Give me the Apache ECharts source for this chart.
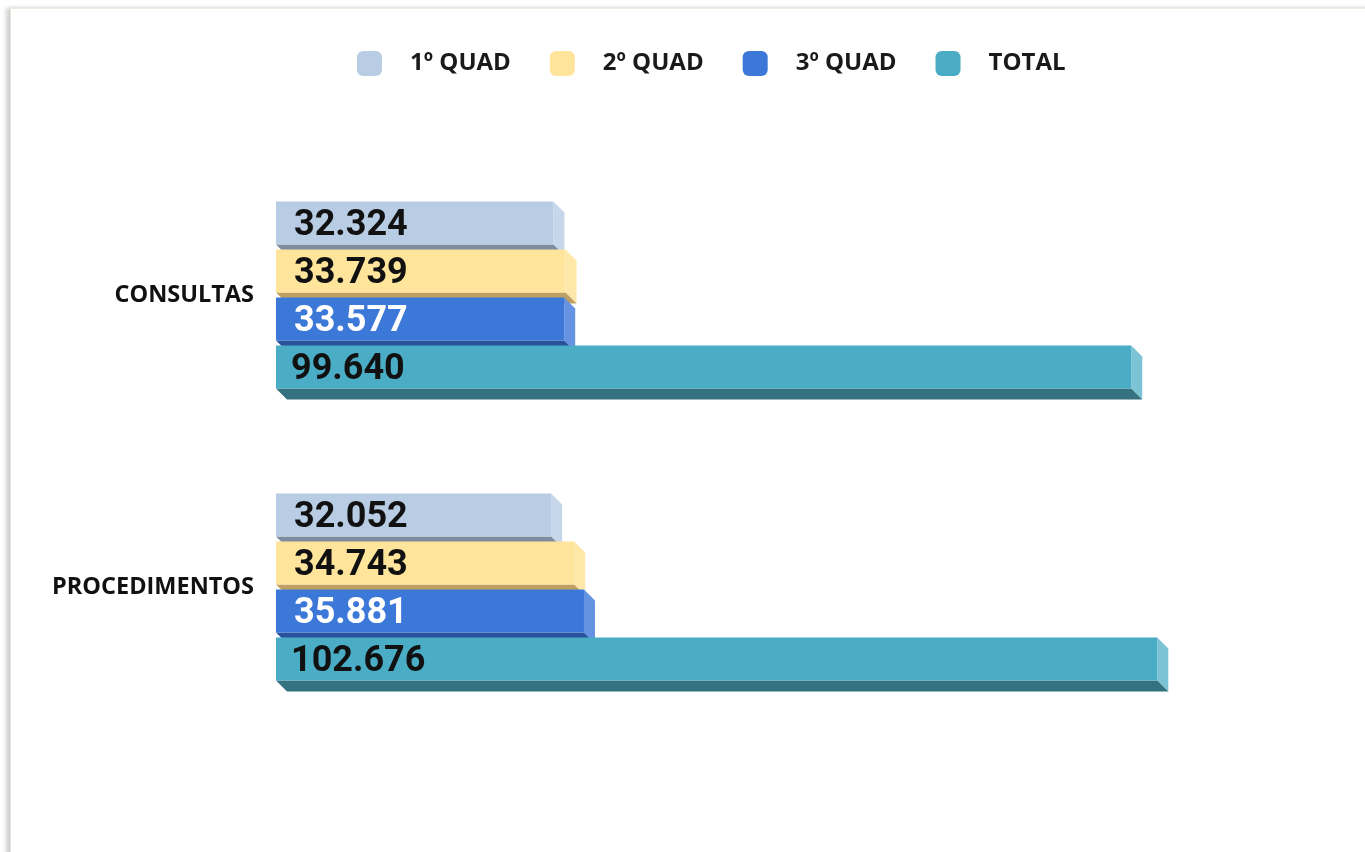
<!DOCTYPE html>
<html>
<head>
<meta charset="utf-8">
<script src="https://cdn.jsdelivr.net/npm/echarts@6/dist/echarts.min.js"></script>
<style>
  html, body { margin: 0; padding: 0; background: #fff; }
  #card {
    position: absolute; left: 10px; top: 8px; width: 1400px; height: 900px;
    background: #fff;
    border-left: 1px solid #e6e6da; border-top: 1px solid #ecebe0;
    box-shadow: -4px 0 4px rgba(0, 0, 0, 0.18), 0 -1px 2px rgba(0, 0, 0, 0.04);
  }
  #chart { position: absolute; left: 0; top: 0; width: 1365px; height: 852px; }
</style>
</head>
<body>
<div id="card"></div>
<div id="chart"></div>
<script>
  // dados
  var categories = ['CONSULTAS', 'PROCEDIMENTOS'];
  var seriesNames = ['1º QUAD', '2º QUAD', '3º QUAD', 'TOTAL'];
  var quad1 = [32324, 32052];
  var quad2 = [33739, 34743];
  var quad3 = [33577, 35881];
  var total = [99640, 102676];
  var allValues = [quad1, quad2, quad3, total];

  // cores: frente, lado direito, base
  var faceColors = [
    ['#b8cce4', '#c6d7eb', '#7d8ca0'],
    ['#ffe49b', '#ffe7a9', '#bfa063'],
    ['#3c78d8', '#6593e2', '#28529c'],
    ['#4bacc6', '#7cc3d6', '#34727f']
  ];
  var labelColors = ['#111', '#111', '#fff', '#111'];

  var BAR_H = 43, GAP = 5, DEPTH = 11;
  var PITCH = BAR_H + GAP;
  var GROUP = 4 * BAR_H + 3 * GAP;

  function fmt(v) {
    return (v / 1000).toFixed(3);
  }

  function makeRender(s) {
    return function (params, api) {
      var catIdx = api.value(1);
      var val = api.value(0);
      var start = api.coord([0, catIdx]);
      var end = api.coord([val, catIdx]);
      var x0 = start[0], x1 = end[0];
      var y0 = start[1] - GROUP / 2 + s * PITCH;
      var y1 = y0 + BAR_H;
      var c = faceColors[s];
      return {
        type: 'group',
        children: [
          {
            type: 'polygon',
            shape: { points: [[x1, y0], [x1 + DEPTH, y0 + DEPTH], [x1 + DEPTH, y1 + DEPTH], [x1, y1]] },
            style: { fill: c[1] }
          },
          {
            type: 'polygon',
            shape: { points: [[x0, y1], [x1, y1], [x1 + DEPTH, y1 + DEPTH], [x0 + DEPTH, y1 + DEPTH]] },
            style: { fill: c[2] }
          },
          {
            type: 'rect',
            shape: { x: x0, y: y0, width: x1 - x0, height: BAR_H },
            style: { fill: c[0] }
          },
          {
            type: 'text',
            x: x0 + (s === 3 ? 15 : 18),
            y: (y0 + y1) / 2 + 3,
            style: {
              text: fmt(val),
              fill: labelColors[s],
              font: 'bold 36px Roboto',
              verticalAlign: 'middle',
              align: 'left'
            }
          }
        ]
      };
    };
  }

  var series = allValues.map(function (vals, s) {
    return {
      name: seriesNames[s],
      type: 'custom',
      renderItem: makeRender(s),
      itemStyle: { color: faceColors[s][0] },
      encode: { x: 0, y: 1 },
      data: vals.map(function (v, i) { return [v, i]; })
    };
  });

  var chart = echarts.init(document.getElementById('chart'));
  chart.setOption({
    animation: false,
    color: faceColors.map(function (c) { return c[0]; }),
    legend: {
      top: 51,
      left: 357,
      padding: 0,
      itemWidth: 25,
      itemHeight: 25,
      itemGap: 39,
      icon: 'roundRect',
      textStyle: {
        fontFamily: 'Open Sans',
        fontWeight: 'bold',
        fontSize: 24,
        color: '#1a1a1a',
        padding: [0, 0, 0, 23]
      },
      data: seriesNames
    },
    grid: { left: 276, top: 149, width: 1030, height: 584 },
    xAxis: { type: 'value', min: 0, max: 120000, show: false },
    yAxis: {
      type: 'category',
      inverse: true,
      data: categories,
      axisLine: { show: false },
      axisTick: { show: false },
      axisLabel: {
        margin: 22,
        fontFamily: 'Open Sans',
        fontWeight: 'bold',
        fontSize: 23.5,
        color: '#111'
      }
    },
    series: series
  });
</script>
</body>
</html>
